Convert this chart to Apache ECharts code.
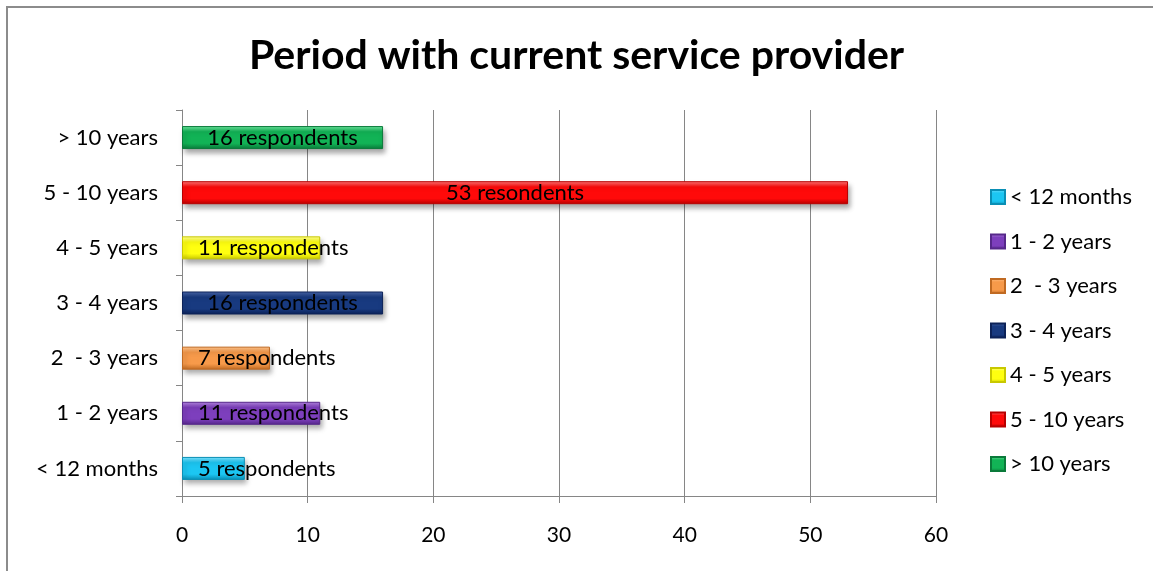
<!DOCTYPE html>
<html>
<head>
<meta charset="utf-8">
<style>
  html, body { margin: 0; padding: 0; background: #ffffff; }
  #chart { width: 1153px; height: 571px; }
</style>
<script src="https://cdn.jsdelivr.net/npm/echarts@6/dist/echarts.min.js"></script>
</head>
<body>
<div id="chart"></div>
<script>
// Tenure categories, bottom to top on the category axis
const categories = ['< 12 months', '1 - 2 years', '2  - 3 years', '3 - 4 years', '4 - 5 years', '5 - 10 years', '> 10 years'];
// Number of respondents per tenure band
const respondents = [5, 11, 7, 16, 11, 53, 16];
// Label text shown on each bar
const barLabels = ['5 respondents', '11 respondents', '7 respondents', '16 respondents', '11 respondents', '53 resondents', '16 respondents'];
// Value axis ticks
const xTicks = [0, 10, 20, 30, 40, 50, 60];

// Base colour plus lighter / darker shades for the bevelled look
const palette = [
  { hi: '#7fe3ff', base: '#1cc6f2', lo: '#0a8fb5' },
  { hi: '#b486e0', base: '#7d3fbd', lo: '#56288a' },
  { hi: '#ffc48c', base: '#f79a4a', lo: '#c06a22' },
  { hi: '#4a66a8', base: '#183a80', lo: '#0c2258' },
  { hi: '#ffff9a', base: '#ffff10', lo: '#c8c800' },
  { hi: '#ff7a7a', base: '#ff0a0a', lo: '#b80000' },
  { hi: '#6ee7a0', base: '#12b356', lo: '#0a7a3a' }
];

const font = 'Lato, "Open Sans", sans-serif';

function bevel(c) {
  return new echarts.graphic.LinearGradient(0, 0, 0, 1, [
    { offset: 0, color: c.hi },
    { offset: 0.25, color: c.base },
    { offset: 0.75, color: c.base },
    { offset: 1, color: c.lo }
  ]);
}

const series = categories.map((name, i) => {
  const data = categories.map((_, j) => (j === i ? respondents[i] : '-'));
  const wide = respondents[i] >= 14;
  return {
    name: name,
    type: 'bar',
    stack: 'tenure',
    barWidth: 23,
    data: data,
    itemStyle: {
      color: bevel(palette[i]),
      borderColor: palette[i].lo,
      borderWidth: 1,
      shadowColor: 'rgba(0,0,0,0.35)',
      shadowBlur: 5,
      shadowOffsetX: 2,
      shadowOffsetY: 4
    },
    label: {
      show: true,
      position: wide ? 'inside' : 'insideLeft',
      distance: wide ? 5 : 16,
      formatter: () => barLabels[i],
      color: '#000',
      fontFamily: font,
      fontSize: 22
    }
  };
});

const chart = echarts.init(document.getElementById('chart'), null, { renderer: 'canvas' });
chart.setOption({
  animation: false,
  backgroundColor: '#ffffff',
  title: {
    text: 'Period with current service provider',
    left: 'center',
    top: 30,
    textStyle: { fontFamily: font, fontWeight: 'bold', fontSize: 41, color: '#000' }
  },
  graphic: [{
    type: 'rect',
    shape: { x: 7, y: 7, width: 1160, height: 580 },
    style: { fill: 'none', stroke: '#8c8c8c', lineWidth: 2 },
    silent: true
  }],
  legend: {
    orient: 'vertical',
    left: 985,
    top: 181,
    itemWidth: 14,
    itemHeight: 14,
    itemGap: 22.5,
    icon: 'rect',
    textStyle: { fontFamily: font, fontSize: 22, color: '#000' },
    data: categories
  },
  grid: { left: 182, right: 217, top: 110, bottom: 75 },
  xAxis: {
    type: 'value',
    min: xTicks[0],
    max: xTicks[xTicks.length - 1],
    interval: 10,
    axisLine: { show: true, lineStyle: { color: '#868686', width: 1 } },
    axisTick: { show: true, length: 7, lineStyle: { color: '#868686' } },
    splitLine: { show: true, lineStyle: { color: '#868686', width: 1 } },
    axisLabel: { fontFamily: font, fontSize: 21, color: '#000', margin: 29 }
  },
  yAxis: {
    type: 'category',
    data: categories,
    axisLine: { show: true, lineStyle: { color: '#868686', width: 1 } },
    axisTick: { show: true, length: 6, lineStyle: { color: '#868686' } },
    axisLabel: { fontFamily: font, fontSize: 22, color: '#000', margin: 24 }
  },
  series: series
});
</script>
</body>
</html>
